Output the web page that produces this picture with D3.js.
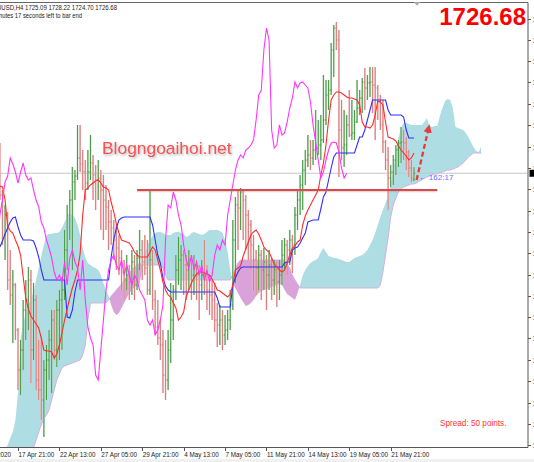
<!DOCTYPE html>
<html><head><meta charset="utf-8">
<script src="https://cdn.jsdelivr.net/npm/d3@7"></script>
<style>html,body{margin:0;padding:0;background:#fff;overflow:hidden}svg{display:block}</style>
</head><body><svg id="c" width="534" height="462"></svg>
<script>
// ---------------- DATA (XAUUSD H4, first bar index = -7; bar 0 = 17 Apr 21:00) ----------------
const firstBar = -7;
const opens = [
1732.5,1721.25,1711.25,1716.25,1700,1696.25,1698.75,1687.5,1677.5,1682.5,
1692.5,1695,1700,1682.5,1695,1675,1672.5,1670,1677.5,1680,
1685,1690,1682.5,1692.5,1695,1697.5,1707.5,1716.25,1720,1724.5,
1726,1730.5,1729,1727,1724.25,1727,1729.25,1726.25,1725,1725.5,
1722.5,1720,1718.25,1714.5,1713,1710,1708,1705.5,1702,1700,
1701.25,1699.5,1704.5,1698.75,1705.5,1707.5,1704.5,1703,1697.5,1705,
1695,1688.25,1685.5,1683.75,1676.25,1675,1682.5,1690,1697.5,1702.5,
1705,1706.25,1703.75,1702.5,1705,1701.25,1703.75,1701.25,1698.75,1701.25,
1700,1697.5,1696.25,1695,1690,1688.75,1690,1686.25,1687.5,1690,
1693.75,1710,1718.75,1718,1722,1720,1716.25,1713.75,1708.75,1705,
1703,1706.25,1702.5,1704.5,1701.25,1703.75,1700,1702.5,1699.5,1701.25,
1706.25,1708.75,1707.5,1710,1708.75,1716.25,1720,1723.75,1727.5,1730,
1731.25,1730.5,1732.5,1733,1733.75,1735,1740,1746.25,1747.5,1757.5,
1763,1760,1737.5,1733,1733.75,1738.75,1736.25,1736.75,1739.5,1743,
1745.5,1749.5,1748,1749.25,1749.5,1748.75,1748,1744.5,1738.75,1734.5,
1730,1725.5,1727,1730,1732.5,1734.25,1734.5,1734.25,1732,1728,
1725.09];
const highs = [
1734.25,1722.5,1718.75,1717,1707.5,1702.5,1699.25,1688,1685,1695,
1700,1703.25,1702.5,1699.25,1696.25,1685,1685.75,1680,1683.75,1687.5,
1692.5,1692.5,1695,1697.5,1700.75,1712.5,1718.75,1722.5,1728.25,1727.5,
1738.75,1738.75,1732.5,1730,1732.5,1736.25,1731.25,1728.75,1730,1727.5,
1726.25,1723.75,1720,1717.5,1715,1713.75,1711.25,1707.5,1705,1706.25,
1703.75,1707.5,1706.25,1707.5,1712.5,1710,1711.25,1710,1722.5,1707.5,
1697.5,1695,1690,1687.5,1685,1687.5,1699.25,1698.75,1706.25,1710.75,
1708.75,1707.5,1706.25,1707.5,1706.25,1706.25,1705,1703.75,1705,1710,
1703.75,1701.25,1700,1699.25,1694.25,1693.75,1692.5,1691.25,1692.5,1697.5,
1715,1720.75,1722.5,1723,1722.5,1721.25,1717.5,1715,1711.25,1707.5,
1708.75,1707.5,1708,1706.25,1707.5,1705.5,1705,1704.5,1705,1710,
1710.5,1710,1712.5,1711.25,1718.25,1722.5,1726.25,1730,1732.5,1736.25,
1735,1735,1742.5,1740,1741.25,1751.25,1750,1750,1759.25,1763.75,
1764.5,1762.5,1745,1742.5,1741.25,1747.5,1745,1742.5,1750,1747.5,
1750.5,1753,1751.25,1753.25,1753.25,1753.25,1748.75,1746.25,1745,1735,
1733.25,1728.75,1731.25,1733.75,1735,1738.25,1737.5,1735.75,1732.5,1730,
1728.22];
const lows = [
1720,1708.75,1705,1697.5,1693.75,1684.25,1685,1672.5,1671.25,1677.5,
1685,1687.5,1674.25,1680,1672.5,1670,1665,1660.75,1670,1675,
1671.75,1680,1678.25,1680,1682.5,1695,1702.5,1710,1702.5,1720,
1725,1727,1722.5,1720,1722.5,1725,1720,1717.5,1720,1712.5,
1710,1712.5,1707.5,1708.75,1705,1702.5,1701.25,1697.5,1695,1697.5,
1695,1696.25,1695,1697.5,1702.5,1700,1701.25,1696.25,1696.25,1692.5,
1686.25,1683.75,1680,1671.75,1670,1672.5,1679.25,1685,1695,1698.75,
1697.5,1696.25,1695,1697.5,1695,1696.25,1695,1690,1695,1696.25,
1692.5,1691.25,1690,1687,1683.25,1683.75,1682.5,1683.75,1685,1687.5,
1692.5,1699.25,1707.5,1712.5,1710,1707.5,1705,1702.5,1697.5,1696.25,
1697.5,1695,1697.5,1692.5,1697.5,1695,1696.25,1693.25,1695,1698.75,
1702.5,1701.25,1703.75,1701.75,1706.25,1712.5,1716.25,1717.5,1723.75,1728.25,
1727.5,1728.75,1730,1731.25,1730,1734.25,1738.75,1742.5,1746.25,1750.75,
1757.5,1725.75,1730,1728.25,1731.25,1735.75,1735,1735,1739.25,1741.25,
1741.75,1742.5,1745,1745.75,1741.75,1735,1740,1737.5,1731.75,1727.5,
1717.5,1723.25,1723.75,1726.25,1728.25,1729.25,1730,1727.5,1725.75,1724.5,
1724.70];
const closes = [
1721.25,1711.25,1716.25,1700,1696.25,1698.75,1687.5,1677.5,1682.5,1692.5,
1695,1700,1682.5,1695,1675,1672.5,1670,1677.5,1680,1685,
1690,1682.5,1692.5,1695,1697.5,1707.5,1716.25,1720,1724.5,1726,
1730.5,1729,1727,1724.25,1727,1729.25,1726.25,1725,1725.5,1722.5,
1720,1718.25,1714.5,1713,1710,1708,1705.5,1702,1700,1701.25,
1699.5,1704.5,1698.75,1705.5,1707.5,1704.5,1703,1697.5,1705,1695,
1688.25,1685.5,1683.75,1676.25,1675,1682.5,1690,1697.5,1702.5,1705,
1706.25,1703.75,1702.5,1705,1701.25,1703.75,1701.25,1698.75,1701.25,1700,
1697.5,1696.25,1695,1690,1688.75,1690,1686.25,1687.5,1690,1693.75,
1710,1718.75,1718,1722,1720,1716.25,1713.75,1708.75,1705,1703,
1706.25,1702.5,1704.5,1701.25,1703.75,1700,1702.5,1699.5,1701.25,1706.25,
1708.75,1707.5,1710,1708.75,1716.25,1720,1723.75,1727.5,1730,1731.25,
1730.5,1732.5,1733,1733.75,1735,1740,1746.25,1747.5,1757.5,1763,
1760,1737.5,1733,1733.75,1738.75,1736.25,1736.75,1739.5,1743,1745.5,
1749.5,1748,1749.25,1749.5,1748.75,1748,1744.5,1738.75,1734.5,1730,
1725.5,1727,1730,1732.5,1734.25,1734.5,1734.25,1732,1728,1725.5,
1726.68];
// Tenkan-sen (red), same bars as above
const tenkan = [
1723.5,1723.25,1720,1713.5,1712.25,1711.75,1710,1708.5,1706.25,1700.75,
1695.5,1692.75,1691,1690,1689,1688,1685.5,1682.5,1682.25,1682.25,
1682,1680.5,1681.5,1683.75,1686.75,1690,1692.75,1695.5,1698,1700,
1702.5,1706.5,1716.25,1722.5,1723,1723.75,1724.25,1724.75,1725,1724.25,
1723.25,1723,1722.5,1719.5,1717,1714,1711.75,1710,1709.75,1709.5,
1709.25,1708.25,1707,1706.25,1705.75,1705.75,1705.75,1705.75,1707,1708.25,
1707.5,1705,1702.5,1699.5,1697.5,1696.25,1695.75,1694.25,1693,1690,
1690.75,1692,1695.75,1697.5,1699.25,1700.5,1701.5,1702,1702,1701.75,
1701.5,1701.25,1700.25,1699,1697.5,1697.25,1696.75,1696.25,1695.75,1696.5,
1698.75,1702.5,1703,1703.5,1706,1707.75,1709.5,1711.25,1712,1712.5,
1711.5,1710,1708.25,1707.5,1707,1705.5,1704,1703.25,1702.5,1702,
1702.5,1704.25,1706.25,1708,1708.5,1709.5,1710,1713.75,1716,1717.5,
1718.75,1720,1721.25,1722.5,1726.25,1729.25,1733.75,1740,1745,1746.25,
1747,1747,1746.75,1746.25,1745.75,1745.5,1745.5,1745.25,1745,1743.75,
1739.5,1738.25,1738.25,1738,1738.75,1741.25,1744.75,1744.5,1743.75,1739.5,
1735.75,1735.5,1735.25,1734.75,1733.5,1732.5,1731.75,1731,1730,1730.5,
1731.75];
// Kijun-sen (blue)
const kijun = [
1708.25,1709.75,1711.5,1713,1714.5,1715.5,1715.75,1713.25,1711.25,1710,
1710,1710,1710,1709.75,1708,1705.75,1702.5,1700,1700,1700,
1700,1700,1700,1700,1700,1700,1690.75,1690.5,1692.5,1697,
1700,1700,1700,1700,1700,1700,1700,1700,1700,1700,
1700,1700,1700,1705.75,1710,1713,1715,1715.5,1715.75,1715.75,
1715.75,1715.75,1715.75,1715.75,1715.75,1715.75,1715.75,1715.75,1715.75,1713.75,
1710,1706.25,1704.25,1700.5,1698.5,1697.5,1697,1697,1697,1697,
1697,1697,1697,1697,1697,1697,1697,1697,1697,1697,
1697,1697,1697,1697,1695.5,1693.25,1693.25,1693.25,1693.25,1693.25,
1698.75,1700.5,1702,1703,1703.25,1703.25,1703.25,1703.25,1703.25,1703.25,
1703.25,1703.25,1703.25,1703.25,1703.25,1703.25,1703.25,1703.25,1703.25,1703.25,
1704.25,1704.5,1704.5,1707.5,1708,1708.25,1709.25,1710.5,1711.75,1714.5,
1714.75,1715,1715,1715,1717.75,1720.75,1722,1725,1728,1730.75,
1731.75,1731.75,1731.75,1731.75,1731.75,1731.75,1731.75,1731.75,1733.75,1735.75,
1735.75,1737.5,1740,1742.5,1745,1745,1745,1745,1745,1745,
1742.5,1741.25,1741.25,1741.25,1741.25,1741.25,1740.75,1737.5,1735.5,1735.5,
1735.5];
// Senkou span A / B (already displaced 26 bars forward), bars -7 .. 179
const spanA = [
1650,1652.5,1657.5,1658.75,1660.5,1662,1665,1671.75,1685.5,1688.75,
1691.75,1693.75,1695.5,1697,1700,1703,1706,1708.75,1711.25,1711.5,
1711.5,1711.75,1711.75,1712,1713,1714.5,1715.75,1716.25,1716.5,1715.5,
1713.75,1711.25,1708,1705.5,1704.25,1703.75,1703.25,1703,1702.5,1701.25,
1699.25,1697.5,1696,1693.75,1692,1691.25,1691.75,1693,1694.25,1695.5,
1696.75,1697.5,1698.25,1698.75,1699.25,1702.5,1706.25,1708.75,1710,1711,
1711.75,1712,1712,1711.75,1711.25,1711.25,1711.25,1711.75,1712,1712,
1711.75,1711.5,1710.75,1711,1711.75,1712,1711.75,1711.5,1711.25,1711.5,
1712,1712.5,1712.5,1712.5,1712.5,1712.25,1711.75,1710,1707,1702.5,
1699.25,1698,1696.75,1695.5,1694.5,1693.5,1693.75,1694.25,1695,1696,
1696.75,1697.25,1697.5,1697.75,1698,1698.25,1698.5,1698.75,1699,1698.75,
1697.5,1696.5,1696,1695.5,1695,1696.75,1698.75,1701.25,1702.5,1703.5,
1704.25,1704.75,1705,1705.5,1707,1708,1707,1706,1705.75,1705.5,
1705.5,1705.25,1705,1704.75,1704.5,1704.5,1705,1705.5,1705.75,1706,
1706.25,1706.75,1707.5,1708.75,1710,1711.75,1713.75,1715.75,1717.5,1719.25,
1721,1723.75,1727.5,1732,1735.5,1738,1739.25,1739.25,1739,1738.75,
1738.75,1738.75,1738.75,1738.75,1739.5,1740.5,1738.5,1738.25,1738.5,1738.5,
1741,1743,1744.75,1745.25,1745,1743,1738.25,1738,1737.75,1737.5,
1736.75,1735.75,1734.5,1733.25,1732.25,1732,1733.5];
const spanB = [
1645,1645,1646.25,1647.5,1648.75,1650,1651.25,1652.5,1653.75,1655,
1655.75,1656.5,1657.5,1658,1660,1662,1663.75,1665.5,1666.25,1667.5,
1670,1672.5,1675,1676.5,1678,1678.5,1678.75,1679,1679.25,1679.5,
1679.75,1680,1681.25,1683.75,1690,1694.25,1694.25,1694.25,1694.25,1694.25,
1694.25,1694.25,1695,1696,1696.75,1697.5,1698.25,1699,1700,1700.75,
1701.75,1702.5,1703.25,1703.75,1704.25,1703.75,1703.75,1703.75,1703.75,1703.75,
1703.75,1703.75,1703.75,1703,1701.25,1700,1700,1700,1700,1700,
1700,1700,1700,1700,1700,1700,1700,1700,1700,1700,
1700,1700,1700,1700,1700,1700,1700,1700,1700,1700,
1701.25,1703,1704.25,1705,1705,1705,1705,1705,1705,1705,
1705,1705,1705,1705,1705,1705,1705,1705,1705,1705,
1705,1704,1703,1701.25,1700,1699,1698,1698,1698,1698,
1698,1698,1698,1698,1698,1698,1698,1698,1698,1698,
1698,1698,1698,1698,1698,1698,1698,1698,1698,1698,
1698,1698,1698,1698,1698,1698,1698,1698.75,1702,1706.25,
1710.5,1715.75,1718.75,1720.5,1722,1722.75,1723.25,1723.5,1723.75,1724,
1724,1724.25,1724.75,1725,1725.5,1725.75,1726,1726.25,1726.5,1726.5,
1726.75,1727,1727.25,1727.5,1727.5,1727.75,1728,1728.25,1728.75,1729.25,
1730,1730.75,1731.25,1731.75,1731.75,1731.75,1731.75];
const chikouShift = 26;
// axes
const priceTicks = [1765.25,1760,1754.75,1749.5,1744,1738.75,1733.25,1728,1722.75,1717.25,1712,1706.75,1701.25,1696,1690.75,1685.5,1680,1674.75,1669.25,1664,1658.75];
const dateTickBars = [-16,0,16,32,48,64,80,96,112,128,144];
const dateLabels = ["16 Apr 2020","17 Apr 21:00","22 Apr 13:00","27 Apr 05:00","29 Apr 21:00","4 May 13:00","7 May 05:00","11 May 21:00","14 May 13:00","19 May 05:00","21 May 21:00"];
// annotations
const supportLevel = [1722.5];
const supportFromBar = [46];
const supportToBar = [162];
const arrowFrom = [154, 1725];
const arrowTo = [158.5, 1737.5];
const symbolName = "XAUUSD,H4";
const timerText = "162 minutes 17 seconds left to bar end";
const timerLabel = "\u2190 162:17";
const spreadText = "Spread: 50 points.";
const watermark = "Blogngoaihoi.net";

// ---------------- DRAWING ----------------
const svg = d3.select('#c');
const plot = {left:0, right:527.5, top:3, bottom:447};
const x = d3.scaleLinear().domain([0,144]).range([18,390.7]);
const y = d3.scaleLinear().domain([1770,1658.25]).range([0,447]);
const bx = i => x(firstBar + i);
const F = "'Liberation Sans', Arial, sans-serif";

svg.append('rect').attr('x',0).attr('y',0).attr('width',534).attr('height',462).attr('fill','#fff');
svg.append('rect').attr('x',0).attr('y',459).attr('width',534).attr('height',3).attr('fill','#f0f0f0');

const defs = svg.append('defs');
defs.append('clipPath').attr('id','plotClip').append('rect')
  .attr('x',plot.left).attr('y',plot.top).attr('width',plot.right-plot.left).attr('height',plot.bottom-plot.top);
defs.append('clipPath').attr('id','belowA').append('path')
  .attr('d', d3.area().x((d,i)=>bx(i)).y0(d=>y(d)).y1(2000)(spanA));
defs.append('clipPath').attr('id','aboveA').append('path')
  .attr('d', d3.area().x((d,i)=>bx(i)).y0(-2000).y1(d=>y(d))(spanA));
const shadow = defs.append('filter').attr('id','shadow').attr('x','-10%').attr('y','-30%').attr('width','130%').attr('height','180%');
shadow.append('feDropShadow').attr('dx',1.2).attr('dy',1.5).attr('stdDeviation',1.1).attr('flood-color','#777').attr('flood-opacity',0.55);
const mk = defs.append('marker').attr('id','arrowHead').attr('viewBox','0 0 10 10').attr('refX',3).attr('refY',5)
  .attr('markerWidth',3.6).attr('markerHeight',3.6).attr('orient','auto');
mk.append('path').attr('d','M0,0 L10,5 L0,10 z').attr('fill','#e83a3a');

const g = svg.append('g').attr('clip-path','url(#plotClip)');

// cloud
const cloud = g.append('g');
cloud.append('g').attr('clip-path','url(#belowA)').append('path')
  .attr('d', d3.area().x((d,i)=>bx(i)).y0(-2000).y1(d=>y(d))(spanB))
  .attr('fill','#aedde3');
cloud.append('g').attr('clip-path','url(#aboveA)').append('path')
  .attr('d', d3.area().x((d,i)=>bx(i)).y0(d=>y(d)).y1(2000)(spanB))
  .attr('fill','#d9a2d9');
cloud.append('path').attr('d', d3.line().x((d,i)=>bx(i)).y(d=>y(d))(spanB))
  .attr('fill','none').attr('stroke','#d7aee6').attr('stroke-width',1);

// current price line
const lastI = closes.length - 1;
g.append('line').attr('x1',plot.left).attr('x2',plot.right)
  .attr('y1',y(closes[lastI])).attr('y2',y(closes[lastI]))
  .attr('stroke','#c8c8c8').attr('stroke-width',1);

// bars
const barData = opens.map((o,i)=>({i, o, h:highs[i], l:lows[i], c:closes[i], up: closes[i] >= o}));
const bars = g.append('g').selectAll('g').data(barData).join('g');
bars.append('line').attr('x1',d=>bx(d.i)).attr('x2',d=>bx(d.i)).attr('y1',d=>y(d.h)).attr('y2',d=>y(d.l))
  .attr('stroke',d=>d.up?'#bfe0bf':'#f4caca').attr('stroke-width',1.7);
bars.append('line').attr('x1',d=>bx(d.i)).attr('x2',d=>bx(d.i)).attr('y1',d=>y(d.h)).attr('y2',d=>y(d.l))
  .attr('stroke',d=>d.up?'#3a8f3a':'#d27272').attr('stroke-width',0.9);
bars.append('line').attr('x1',d=>bx(d.i)-1.1).attr('x2',d=>bx(d.i)).attr('y1',d=>y(d.o)).attr('y2',d=>y(d.o))
  .attr('stroke',d=>d.up?'#3a8f3a':'#d27272').attr('stroke-width',0.8);
bars.append('line').attr('x1',d=>bx(d.i)).attr('x2',d=>bx(d.i)+1.1).attr('y1',d=>y(d.c)).attr('y2',d=>y(d.c))
  .attr('stroke',d=>d.up?'#3a8f3a':'#d27272').attr('stroke-width',0.8);

// ichimoku lines
const lineGen = d3.line().x((d,i)=>bx(i)).y(d=>y(d));
g.append('path').attr('d', lineGen(kijun)).attr('fill','none').attr('stroke','#2f2fff').attr('stroke-width',1.1);
g.append('path').attr('d', lineGen(tenkan)).attr('fill','none').attr('stroke','#ff2b2b').attr('stroke-width',1.1);
g.append('path').attr('d', d3.line().x((d,i)=>x(firstBar+i-chikouShift)).y(d=>y(d))(closes))
  .attr('fill','none').attr('stroke','#ff35ff').attr('stroke-width',1.1);

// support line
supportLevel.forEach((lv,j)=>{
  g.append('line').attr('x1',x(supportFromBar[j])).attr('x2',x(supportToBar[j]))
    .attr('y1',y(lv)+1.6).attr('y2',y(lv)+1.6).attr('stroke','#999').attr('stroke-opacity',0.35).attr('stroke-width',1.5);
  g.append('line').attr('x1',x(supportFromBar[j])).attr('x2',x(supportToBar[j]))
    .attr('y1',y(lv)).attr('y2',y(lv)).attr('stroke','#e24646').attr('stroke-width',2);
});

// arrow
g.append('line').attr('x1',x(arrowFrom[0])).attr('y1',y(arrowFrom[1]))
  .attr('x2',x(arrowTo[0])).attr('y2',y(arrowTo[1]))
  .attr('stroke','#e83a3a').attr('stroke-width',2.3).attr('stroke-dasharray','5,3')
  .attr('marker-end','url(#arrowHead)');

// timer label
g.append('text').attr('x',x(154.8)).attr('y',y(closes[lastI])+6.5).text(timerLabel)
  .attr('font-family',F).attr('font-size',8).attr('fill','#6b6bff');

// watermark
svg.append('text').attr('x',102).attr('y',154).text(watermark)
  .attr('font-family',F).attr('font-size',17.4).attr('fill','#f25252').attr('filter','url(#shadow)');

// frame & axes
svg.append('line').attr('x1',0).attr('x2',528).attr('y1',2.5).attr('y2',2.5).attr('stroke','#666');
svg.append('path').attr('d','M413.5,2 L420.5,2 L417,5.5 Z').attr('fill','#aaa');
svg.append('line').attr('x1',528).attr('x2',528).attr('y1',2.5).attr('y2',447.5).attr('stroke','#555');
svg.append('line').attr('x1',0).attr('x2',528).attr('y1',447.5).attr('y2',447.5).attr('stroke','#555');
const yAx = svg.append('g');
yAx.selectAll('line').data(priceTicks).join('line')
  .attr('x1',528).attr('x2',531).attr('y1',d=>Math.round(y(d))+0.5).attr('y2',d=>Math.round(y(d))+0.5).attr('stroke','#555');
yAx.selectAll('text').data(priceTicks).join('text')
  .attr('x',532.5).attr('y',d=>y(d)+2.5).text(d=>d.toFixed(2))
  .attr('font-family',F).attr('font-size',7).attr('fill','#333');
svg.append('rect').attr('x',529.5).attr('y',y(closes[lastI])-3.5).attr('width',6).attr('height',7).attr('fill','#000');

const xAx = svg.append('g');
xAx.selectAll('line').data(dateTickBars).join('line')
  .attr('x1',d=>Math.round(x(d))+0.5).attr('x2',d=>Math.round(x(d))+0.5).attr('y1',447.5).attr('y2',451).attr('stroke','#555');
xAx.selectAll('text').data(dateTickBars).join('text')
  .attr('x',d=>x(d)+0.5).attr('y',456.5).text((d,i)=>dateLabels[i])
  .attr('font-family',F).attr('font-size',6.3).attr('fill','#222');

// header
svg.append('text').attr('x',-11).attr('y',9.5)
  .text(`${symbolName}  ${opens[lastI].toFixed(2)} ${highs[lastI].toFixed(2)} ${lows[lastI].toFixed(2)} ${closes[lastI].toFixed(2)}`)
  .attr('font-family',F).attr('font-size',6.6).attr('fill','#222')
  .attr('textLength',128).attr('lengthAdjust','spacingAndGlyphs');
svg.append('text').attr('x',-18.6).attr('y',17.8).text(timerText)
  .attr('font-family',F).attr('font-size',6.6).attr('fill','#222')
  .attr('textLength',100.6).attr('lengthAdjust','spacingAndGlyphs');

// big price
svg.append('text').attr('x',526).attr('y',25).attr('text-anchor','end').text(closes[lastI].toFixed(2))
  .attr('font-family',F).attr('font-weight','bold').attr('font-size',24).attr('fill','#ff0000');

// spread
svg.append('text').attr('x',440).attr('y',426).text(spreadText)
  .attr('font-family',F).attr('font-size',8.2).attr('fill','#ff3333');
</script>
</body></html>
